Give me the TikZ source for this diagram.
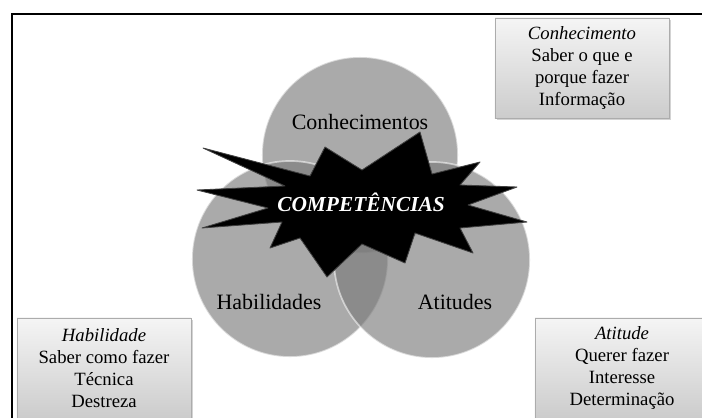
\documentclass[tikz,border=0pt]{standalone}
\usepackage{fontspec}
\setmainfont{Liberation Serif}
\usetikzlibrary{shapes,shadows}
\definecolor{ringgray}{gray}{0.48}
\tikzstyle{ring} = [circle, minimum size=4.9cm, fill=ringgray, fill opacity=0.64,
draw=white, draw opacity=0.55, line width=1.2pt]
\tikzstyle{ringlabel} = [text=black, inner sep=0pt, font=\fontsize{15.6}{18}\selectfont]
\tikzstyle{infobox} = [rectangle, minimum width=4.35cm, minimum height=2.5cm, align=center,
top color=gray!8, bottom color=gray!40, draw=gray!65,
drop shadow={shadow xshift=1.5pt, shadow yshift=-1.5pt, opacity=0.35},
font=\fontsize{13.3}{15.6}\selectfont]
\tikzstyle{burst} = [fill=black, draw=black!75, line width=0.6pt, line join=round]

\begin{document}
\begin{tikzpicture}[x=0.025cm, y=-0.025cm]
    \useasboundingbox (0,0) rectangle (702,417);
    % frame, only top and left edge inside the page
    \draw[line width=1.9pt] (12,440) |- (730,14);

    % the three rings
    \node[ring] (conh) at (360,155) {};
    \node[ring] (habil) at (290,259) {};
    \node[ring] (atit) at (432,260) {};
    \node[ringlabel] (conhtxt) at (360,122) {Conhecimentos};
    \node[ringlabel] (habiltxt) at (269,302) {Habilidades};
    \node[ringlabel] (atittxt) at (455,302) {Atitudes};

    % star in the middle
    \path[burst] (203,148) -- (310,176) -- (325,147) -- (362,170) -- (420,132) -- (432,174)
        -- (480,162) -- (460,185) -- (517,187) -- (468,205) -- (527,222) -- (460,228)
        -- (473,253) -- (415,233) -- (405,263) -- (362,244) -- (327,277) -- (300,238)
        -- (270,248) -- (282,222) -- (202,228) -- (268,208) -- (197,190) -- (285,186) -- cycle;
    \node[text=white, font=\fontsize{15.2}{18}\selectfont\bfseries\itshape]
        (comp) at (361,202) {COMPETÊNCIAS};

    % description boxes
    \node[infobox] (conhbox) at (582,68)
        {\textit{Conhecimento} \\ Saber o que e \\ porque fazer \\ Informação};
    \node[infobox] (habilbox) at (104,368)
        {\textit{Habilidade} \\ Saber como fazer \\ Técnica \\ Destreza};
    \node[infobox] (atitbox) at (622,368)
        {\textit{Atitude} \\ Querer fazer \\ Interesse \\ Determinação};
\end{tikzpicture}
\end{document}
